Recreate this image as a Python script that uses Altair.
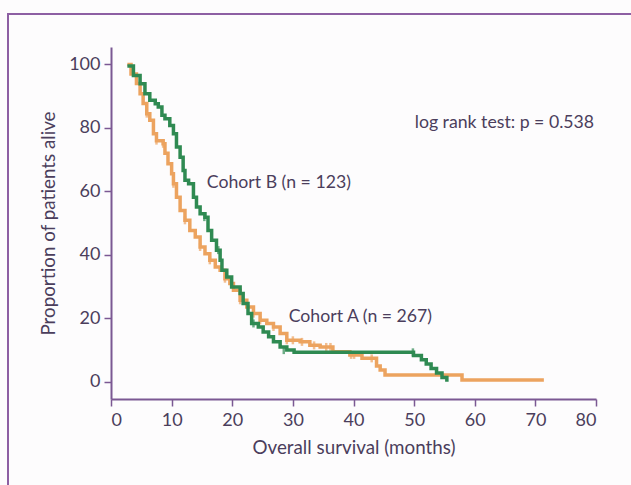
import altair as alt
import pandas as pd

# Cohort A (n = 267) Kaplan-Meier steps: months, % alive
a_time = [2.7, 3.3, 4.2, 4.8, 5.3, 5.9, 6.4, 7.0, 7.5, 8.6, 8.9, 9.4, 10.0, 10.3,
          10.8, 11.4, 12.2, 13.0, 13.9, 14.7, 15.5, 16.3, 17.2, 18.0, 18.8, 19.6,
          20.2, 21.3, 22.4, 23.5, 24.6, 25.7, 26.8, 27.9, 29.0, 31.2, 32.8, 34.5,
          36.6, 39.4, 41.4, 43.8, 44.4, 45.2, 57.9, 71.4]
a_surv = [100, 97, 94, 90.8, 87.7, 84.5, 82.4, 78.2, 76, 75, 72, 68.7, 65.6, 62.4,
          58.2, 54, 50.9, 47.7, 45.6, 42.5, 40.4, 38.3, 36.2, 35.2, 32.5, 31,
          28.9, 25.7, 23.6, 21.5, 19.4, 18.4, 17.3, 15.2, 13.1, 12.6, 11.5, 11.0,
          9.5, 8.5, 7.4, 5.0, 3.7, 2.2, 0.6, 0.6]
a_cens_time = [5.9, 7.5, 8.6, 10.3, 12.2, 14.7, 16.3, 18.8, 21.3, 23.5, 24.6, 26.8,
               29.0, 30.0, 31.5, 33.5, 35.5, 36.2, 39.6, 40.1, 43.0]
a_cens_surv = [84.5, 76, 75, 62.4, 50.9, 42.5, 38.3, 32.5, 25.7, 21.5, 19.4, 17.3,
               13.1, 13.1, 12.6, 11.5, 11.0, 11.0, 8.5, 8.5, 7.4]

# Cohort B (n = 123)
b_time = [2.7, 3.7, 4.8, 5.6, 6.4, 7.3, 7.8, 8.4, 8.9, 9.7, 10.3, 10.8, 11.4, 11.9,
          12.2, 12.8, 13.6, 14.1, 14.7, 15.5, 16.0, 16.6, 17.4, 18.0, 18.3, 19.1,
          19.9, 21.3, 21.8, 22.6, 23.2, 24.3, 25.1, 26.0, 26.8, 27.9, 29.0, 30.2,
          49.9, 51.2, 52.0, 52.8, 53.7, 54.6, 55.4]
b_surv = [99.5, 96.5, 93.9, 90.8, 88.7, 87.6, 86.6, 84, 82.9, 80.8, 78.2, 74, 70.8,
          66.6, 63.5, 62.4, 58.2, 55.1, 53, 51.9, 47.7, 44.6, 41.5, 38.3, 35.2, 33,
          29.9, 27.8, 24.7, 21.5, 18.4, 17.3, 15.7, 14.2, 12.6, 11.0, 10.0, 9.3,
          8.3, 7.0, 5.6, 4.2, 2.8, 1.4, 0]
b_cens_time = [15.4, 17.7, 23.5, 28.5, 49.8]
b_cens_surv = [51.9, 41.5, 18.4, 10.0, 9.3]

# Annotations
note_text = ["Cohort B (n = 123)", "Cohort A (n = 267)", "log rank test: p = 0.538"]
note_x = [15.8, 29.3, 50.1]
note_y = [62.5, 20.4, 81.6]

x_ticks = [0, 10, 20, 30, 40, 50, 60, 70, 80]
y_ticks = [0, 20, 40, 60, 80, 100]

FONT = "Lato"
TXT = "#4b3e5c"
AXC = "#7b5893"
ORANGE = "#eca35f"
GREEN = "#2f8a52"

df_a = pd.DataFrame({"t": a_time, "s": a_surv})
df_b = pd.DataFrame({"t": b_time, "s": b_surv})
df_ac = pd.DataFrame({"t": a_cens_time, "s": a_cens_surv})
df_bc = pd.DataFrame({"t": b_cens_time, "s": b_cens_surv})
df_note = pd.DataFrame({"label": note_text, "x": note_x, "y": note_y})

xs = alt.Scale(domain=[0, 80], nice=False)
ys = alt.Scale(domain=[-5.4, 105.5], nice=False, zero=False)

x_enc = alt.X("t:Q", scale=xs, axis=alt.Axis(
    values=x_ticks, title="Overall survival (months)", grid=False,
    domainColor=AXC, domainWidth=2, tickColor=AXC, tickWidth=1.5, tickSize=7,
    labelColor=TXT, labelFont=FONT, labelFontSize=18, labelPadding=5,
    titleColor=TXT, titleFont=FONT, titleFontSize=18.8, titleFontWeight="normal",
    titlePadding=9))
y_enc = alt.Y("s:Q", scale=ys, axis=alt.Axis(
    values=y_ticks, title="Proportion of patients alive", grid=False,
    domainColor=AXC, domainWidth=2, tickColor=AXC, tickWidth=1.5, tickSize=7,
    labelColor=TXT, labelFont=FONT, labelFontSize=18, labelPadding=4,
    titleColor=TXT, titleFont=FONT, titleFontSize=18.8, titleFontWeight="normal",
    titlePadding=10))

frame = alt.Chart(pd.DataFrame({"d": [0]})).mark_rect(
    fillOpacity=0, stroke="#8d5fa3", strokeWidth=2
).encode(x=alt.value(-103), x2=alt.value(700), y=alt.value(-33), y2=alt.value(600))

line_a = alt.Chart(df_a).mark_line(interpolate="step-after", color=ORANGE,
                                   strokeWidth=3.5).encode(x=x_enc, y=y_enc)
line_b = alt.Chart(df_b).mark_line(interpolate="step-after", color=GREEN,
                                   strokeWidth=3.5).encode(x="t:Q", y="s:Q")
cens_a = alt.Chart(df_ac).mark_tick(orient="vertical", color=ORANGE, size=8,
                                    thickness=2.5).encode(x="t:Q", y="s:Q")
cens_b = alt.Chart(df_bc).mark_tick(orient="vertical", color=GREEN, size=8,
                                    thickness=2.5).encode(x="t:Q", y="s:Q")
notes = alt.Chart(df_note).mark_text(align="left", baseline="middle", font=FONT,
                                     fontSize=17.7, color=TXT).encode(
    x=alt.X("x:Q", scale=xs), y=alt.Y("y:Q", scale=ys), text="label:N")

chart = alt.layer(frame, line_a, cens_a, line_b, cens_b, notes).properties(
    width=485, height=352,
    autosize=alt.AutoSizeParams(type="none"),
    padding={"left": 111, "top": 47, "right": 35, "bottom": 86},
    background="#fdfcfd",
).configure_view(stroke=None)

chart.save("out.html", embed_options={"renderer": "svg", "actions": False})
